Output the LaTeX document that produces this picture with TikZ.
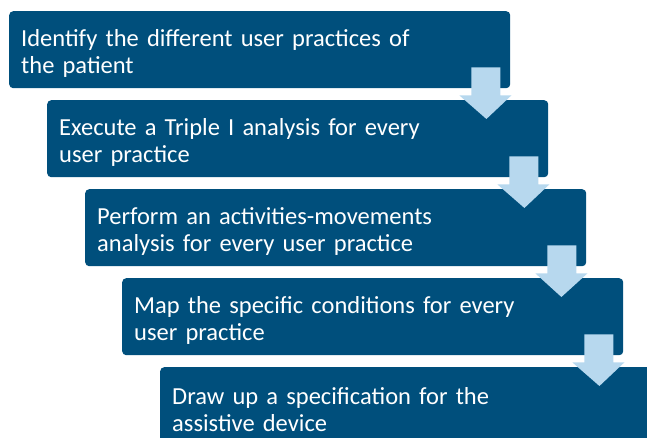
\documentclass[tikz,border=0pt]{standalone}
\usepackage{fontspec}
\setmainfont{Carlito}
\usetikzlibrary{calc}
\definecolor{boxblue}{RGB}{0,79,124}
\definecolor{arrowblue}{RGB}{183,216,238}
\tikzset{
  stepbox/.style={fill=boxblue, rounded corners=4pt, anchor=north west,
    minimum width=501pt, minimum height=77pt, text width=477pt, inner xsep=12pt,
    align=left, text=white, font=\fontsize{24.5}{27}\selectfont,
    execute at begin node={\leavevmode\vrule width 0pt height 25pt\relax}},
  downarrow/.style={fill=arrowblue}
}
\begin{document}
\begin{tikzpicture}[x=1pt,y=1pt]
  \useasboundingbox (0,0) rectangle (647,437);
  \clip (0,0) rectangle (647,437);
  % boxes
  \node[stepbox] (s1) at (9,426) {Identify the different user practices of\\the patient};
  \node[stepbox] (s2) at (47,337) {Execute a Triple I analysis for every\\user practice};
  \node[stepbox] (s3) at (85,248) {Perform an activities-movements\\analysis for every user practice};
  \node[stepbox] (s4) at (122,159) {Map the specific conditions for every\\user practice};
  \node[stepbox] (s5) at (160,70) {Draw up a specification for the\\assistive device};
  % arrows
  \foreach \a/\b in {s1/s2,s2/s3,s3/s4,s4/s5}
    \fill[downarrow] ($(\a.south east)+(-39,21)$) -- ($(\a.south east)+(-10,21)$)
      -- ($(\a.south east)+(-10,-7)$) -- ($(\a.south east)+(1,-7)$)
      -- ($(\b.north east)+(-62,-19)$)
      -- ($(\a.south east)+(-51,-7)$) -- ($(\a.south east)+(-39,-7)$) -- cycle;
\end{tikzpicture}
\end{document}
